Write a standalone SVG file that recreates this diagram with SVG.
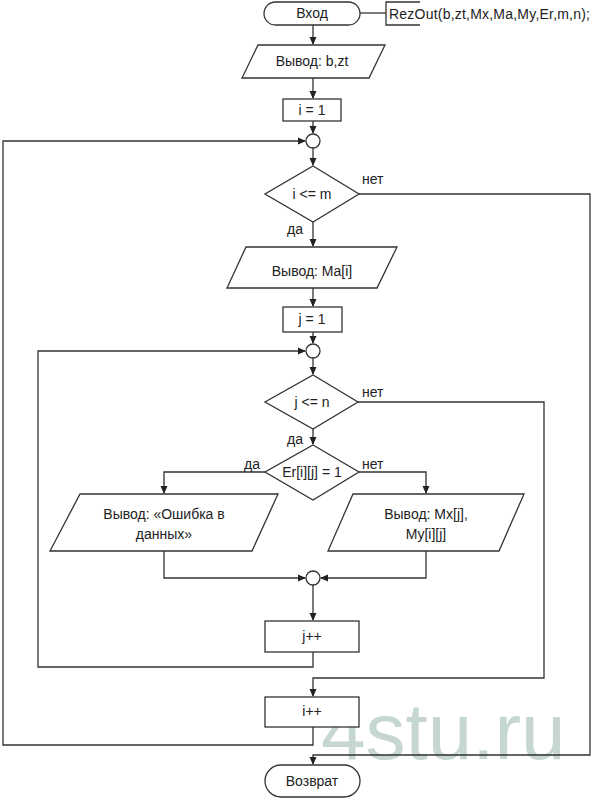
<svg xmlns="http://www.w3.org/2000/svg" width="596" height="799" viewBox="0 0 596 799">
<defs>
<marker id="arr" markerWidth="8" markerHeight="8" refX="7" refY="4" orient="auto" markerUnits="userSpaceOnUse">
<path d="M0,0.5 L8,4 L0,7.5 Z" fill="#222"/>
</marker>
<style>
.s{fill:#fff;stroke:#333;stroke-width:1.3}
.c{fill:none;stroke:#333;stroke-width:1.3}
.t{font-family:"Liberation Sans",Arial,sans-serif;font-size:14px;fill:#222;text-anchor:middle}
.l{font-family:"Liberation Sans",Arial,sans-serif;font-size:14px;fill:#222}
.wm{font-family:"Liberation Sans",Arial,sans-serif;font-size:80px;fill:#c6d7cf}
</style>
</defs>
<rect width="596" height="799" fill="#fff"/>
<text class="wm" x="321" y="759">4stu.ru</text>
<g id="connectors">
<path class="c" d="M313,25 V44" marker-end="url(#arr)"/>
<path class="c" d="M313,78 V98" marker-end="url(#arr)"/>
<path class="c" d="M313,121 V133" marker-end="url(#arr)"/>
<path class="c" d="M313,148 V165" marker-end="url(#arr)"/>
<path class="c" d="M313,222 V246" marker-end="url(#arr)"/>
<path class="c" d="M313,288 V306" marker-end="url(#arr)"/>
<path class="c" d="M313,332 V343" marker-end="url(#arr)"/>
<path class="c" d="M313,358 V374" marker-end="url(#arr)"/>
<path class="c" d="M313,429 V444" marker-end="url(#arr)"/>
<path class="c" d="M265,472 H164 V493" marker-end="url(#arr)"/>
<path class="c" d="M359,472 H426 V493" marker-end="url(#arr)"/>
<path class="c" d="M164,551 V578 H305" marker-end="url(#arr)"/>
<path class="c" d="M426,551 V578 H321" marker-end="url(#arr)"/>
<path class="c" d="M313,585 V620" marker-end="url(#arr)"/>
<path class="c" d="M313,652 V667 H38 V351 H305" marker-end="url(#arr)"/>
<path class="c" d="M358,402 H544 V678 H313 V696" marker-end="url(#arr)"/>
<path class="c" d="M313,727 V745 H3 V141 H305" marker-end="url(#arr)"/>
<path class="c" d="M359,194 H590 V755 H313 V764" marker-end="url(#arr)"/>
<path class="c" d="M360,13 H386"/>
<path class="c" d="M420,2 H386 V25 H420"/>
<text class="l" x="362" y="184">нет</text>
<text class="l" x="287" y="234">да</text>
<text class="l" x="362" y="397">нет</text>
<text class="l" x="287" y="444">да</text>
<text class="l" x="244" y="469">да</text>
<text class="l" x="362" y="469">нет</text>
</g>
<g id="comment">
<text class="l" x="389" y="19" textLength="201">RezOut(b,zt,Mx,Ma,My,Er,m,n);</text>
</g>
<g id="start">
<rect class="s" x="264" y="2" width="96" height="23" rx="11.5"/>
<text class="t" x="312" y="18">Вход</text>
</g>
<g id="out_bzt">
<polygon class="s" points="258,45 385,45 369,78 242,78"/>
<text class="t" x="312" y="66">Вывод: b,zt</text>
</g>
<g id="i_init">
<rect class="s" x="283" y="99" width="58" height="22"/>
<text class="t" x="312" y="115">i = 1</text>
</g>
<g id="join_i">
<circle class="s" cx="313" cy="141" r="7"/>
</g>
<g id="cond_i">
<polygon class="s" points="313,166 359,194 313,222 265,194"/>
<text class="t" x="312" y="199">i &lt;= m</text>
</g>
<g id="out_ma">
<polygon class="s" points="246,247 397,247 377,288 227,288"/>
<text class="t" x="312" y="276">Вывод: Ma[i]</text>
</g>
<g id="j_init">
<rect class="s" x="283" y="307" width="59" height="25"/>
<text class="t" x="312" y="324">j = 1</text>
</g>
<g id="join_j">
<circle class="s" cx="313" cy="351" r="7"/>
</g>
<g id="cond_j">
<polygon class="s" points="313,375 358,402 313,429 265,402"/>
<text class="t" x="312" y="407">j &lt;= n</text>
</g>
<g id="cond_er">
<polygon class="s" points="313,445 359,472 313,500 265,472"/>
<text class="t" x="312" y="477">Er[i][j] = 1</text>
</g>
<g id="out_err">
<polygon class="s" points="80,494 278,494 252,551 50,551"/>
<text class="t" x="164" y="519">Вывод: «Ошибка в</text>
<text class="t" x="164" y="539">данных»</text>
</g>
<g id="out_mxy">
<polygon class="s" points="353,494 524,494 499,551 328,551"/>
<text class="t" x="426" y="519">Вывод: Mx[j],</text>
<text class="t" x="426" y="539">My[i][j]</text>
</g>
<g id="join_er">
<circle class="s" cx="313" cy="578" r="7"/>
</g>
<g id="j_inc">
<rect class="s" x="265" y="621" width="94" height="31"/>
<text class="t" x="312" y="641">j++</text>
</g>
<g id="i_inc">
<rect class="s" x="265" y="697" width="94" height="30"/>
<text class="t" x="312" y="716">i++</text>
</g>
<g id="end">
<rect class="s" x="265" y="765" width="95" height="32" rx="16"/>
<text class="t" x="312" y="786">Возврат</text>
</g>
</svg>
